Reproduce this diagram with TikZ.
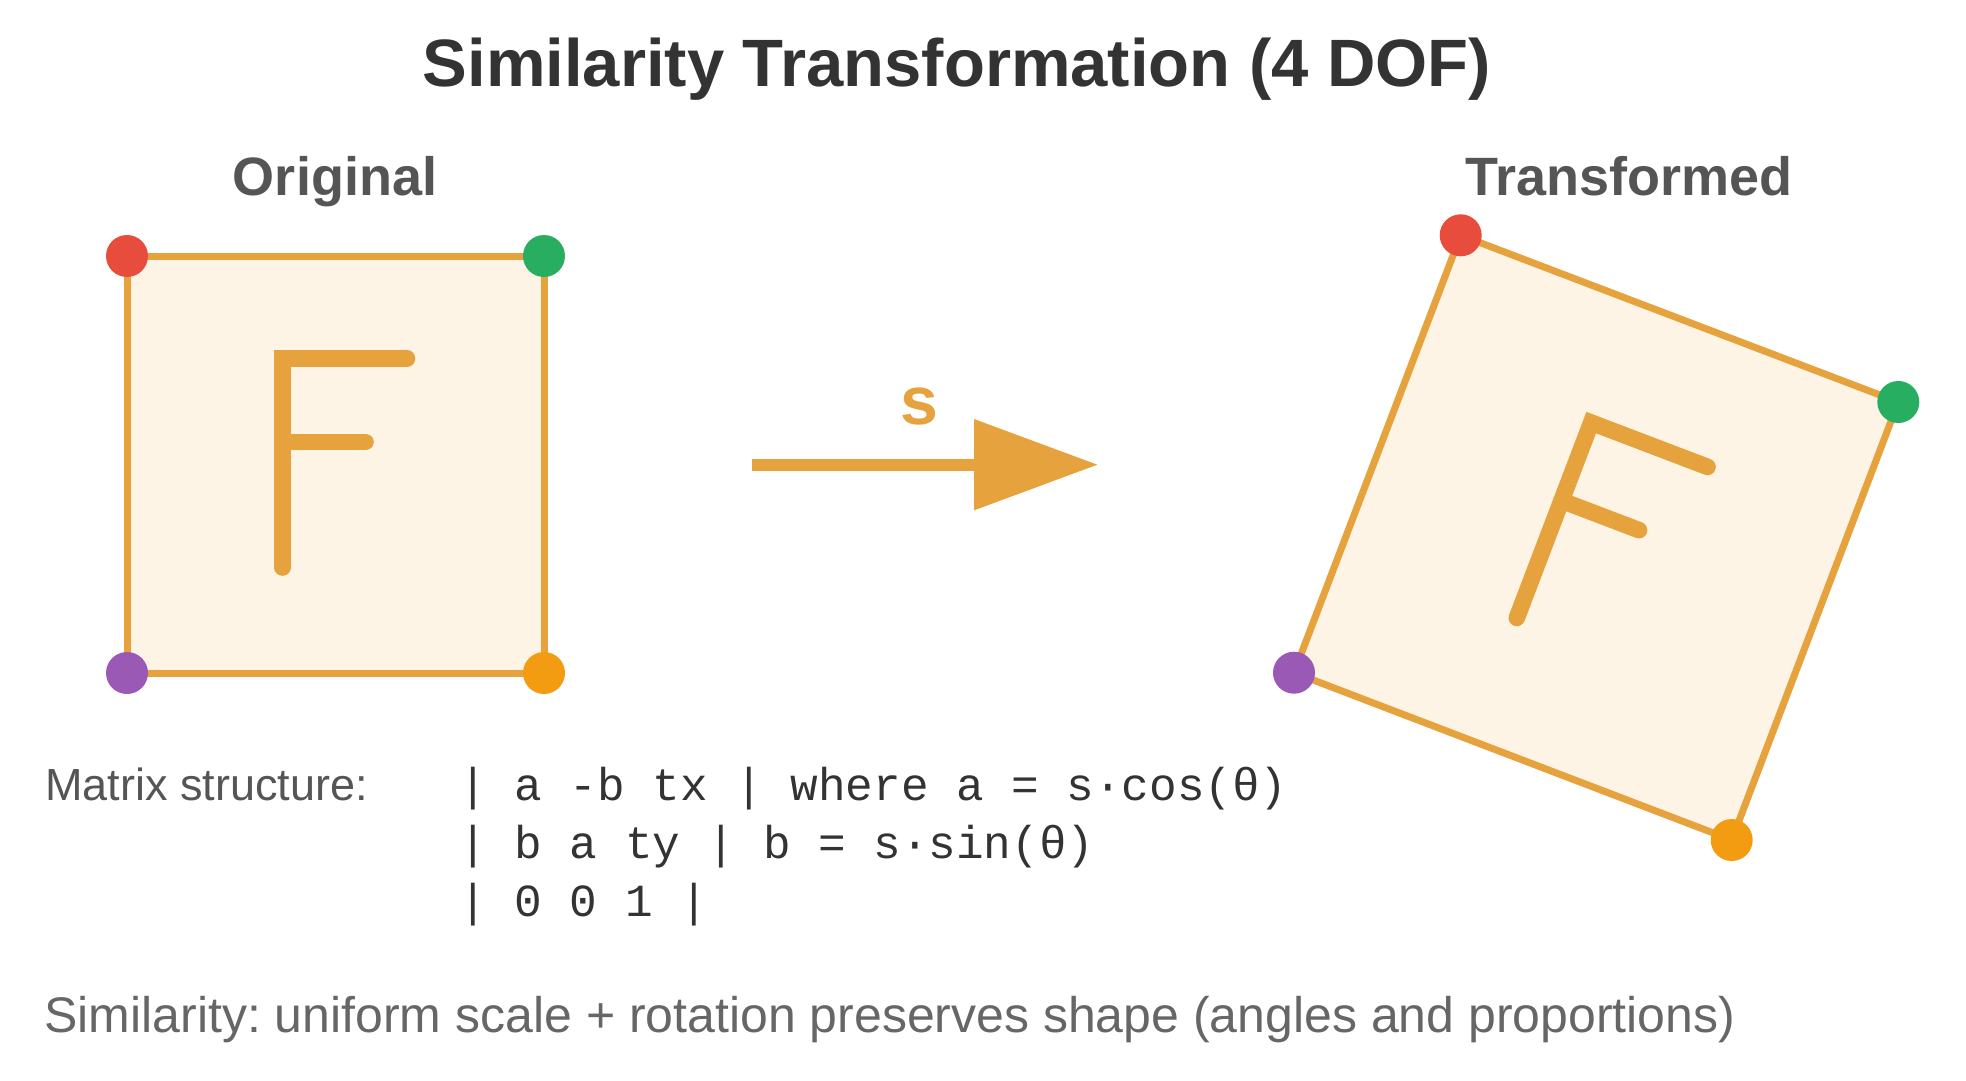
\documentclass[tikz,border=0pt]{standalone}
\usepackage{fontspec}
\setmainfont{Liberation Sans}
\newfontfamily\monofont{Liberation Mono}
\usepackage{tikz}
\usetikzlibrary{arrows.meta,positioning}
\frenchspacing

\definecolor{accent}{HTML}{E6A23C}
\definecolor{paper}{HTML}{FDF4E6}
\definecolor{dotred}{HTML}{E74C3C}
\definecolor{dotgreen}{HTML}{27AE60}
\definecolor{dotorange}{HTML}{F39C12}
\definecolor{dotpurple}{HTML}{9B59B6}
\definecolor{ink}{HTML}{333333}
\definecolor{label}{HTML}{555555}
\definecolor{note}{HTML}{666666}

\begin{document}
\begin{tikzpicture}[
  x=0.5pt, y=-0.5pt,
  square/.style={draw=accent, fill=paper, line width=3.5pt, line join=round},
  dot/.style={circle, inner sep=0pt, minimum size=21pt},
  fstroke/.style={accent, line width=8.3pt, line cap=round, line join=miter},
  heading/.style={font=\bfseries\fontsize{27}{30}\selectfont, text=label, anchor=base, inner sep=0pt},
  mono/.style={font=\monofont\fontsize{23}{26}\selectfont, text=ink, anchor=base west, inner sep=0pt},
  flow/.style={-{Triangle[length=62pt, width=44pt]}, accent, line width=6pt},
  letterF/.pic={
    \draw[fstroke] (71.5,-106) -- (-53,-106) -- (-53,103);
    \draw[fstroke] (-53,-22.5) -- (30,-22.5);
  }
]
\useasboundingbox (0,0) rectangle (1966,1081);

\node[font=\bfseries\fontsize{33.5}{37}\selectfont, text=ink, anchor=base, inner sep=0pt] (title) at (957,87) {Similarity Transformation (4 DOF)};

% Original square
\node[heading] (orig) at (335,195) {Original};
\coordinate (o-tl) at (127,256);
\coordinate (o-tr) at (544,256);
\coordinate (o-br) at (544,673);
\coordinate (o-bl) at (127,673);
\filldraw[square] (o-tl) -- (o-tr) -- (o-br) -- (o-bl) -- cycle;
\pic at (335.5,464.5) {letterF};
\node[dot, fill=dotred] (o-red) at (o-tl) {};
\node[dot, fill=dotgreen] (o-green) at (o-tr) {};
\node[dot, fill=dotorange] (o-orange) at (o-br) {};
\node[dot, fill=dotpurple] (o-purple) at (o-bl) {};

% Transformed square
\node[heading] (trans) at (1629,195) {Transformed};
\coordinate (t-tl) at (1460.7,235.3);
\coordinate (t-tr) at (1898.3,402);
\coordinate (t-br) at (1731.7,840);
\coordinate (t-bl) at (1294,672.7);
\filldraw[square] (t-tl) -- (t-tr) -- (t-br) -- (t-bl) -- cycle;
\pic[rotate=-20.85] at (1603,540.5) {letterF};
\node[dot, fill=dotred] (t-red) at (t-tl) {};
\node[dot, fill=dotgreen] (t-green) at (t-tr) {};
\node[dot, fill=dotorange] (t-orange) at (t-br) {};
\node[dot, fill=dotpurple] (t-purple) at (t-bl) {};

% Arrow
\coordinate (a-from) at (752,464.7);
\coordinate (a-to) at (1098,464.7);
\draw[flow] (a-from) -- (a-to);
\node[font=\bfseries\fontsize{34}{38}\selectfont, text=accent, anchor=base, inner sep=0pt] (scale) at (919,424) {s};

% Matrix
\node[font=\fontsize{22.5}{26}\selectfont, text=label, anchor=base west, inner sep=0pt] (mlabel) at (45,800) {Matrix structure:};
\node[mono] (row1) at (459,800) {| a -b tx | where a = s·cos(θ)};
\node[mono] (row2) at (459,858) {| b a ty | b = s·sin(θ)};
\node[mono] (row3) at (459,916) {| 0 0 1 |};

\node[font=\fontsize{25}{28}\selectfont, text=note, anchor=base west, inner sep=0pt] (footer) at (44,1032) {Similarity: uniform scale + rotation preserves shape (angles and proportions)};

\end{tikzpicture}
\end{document}
